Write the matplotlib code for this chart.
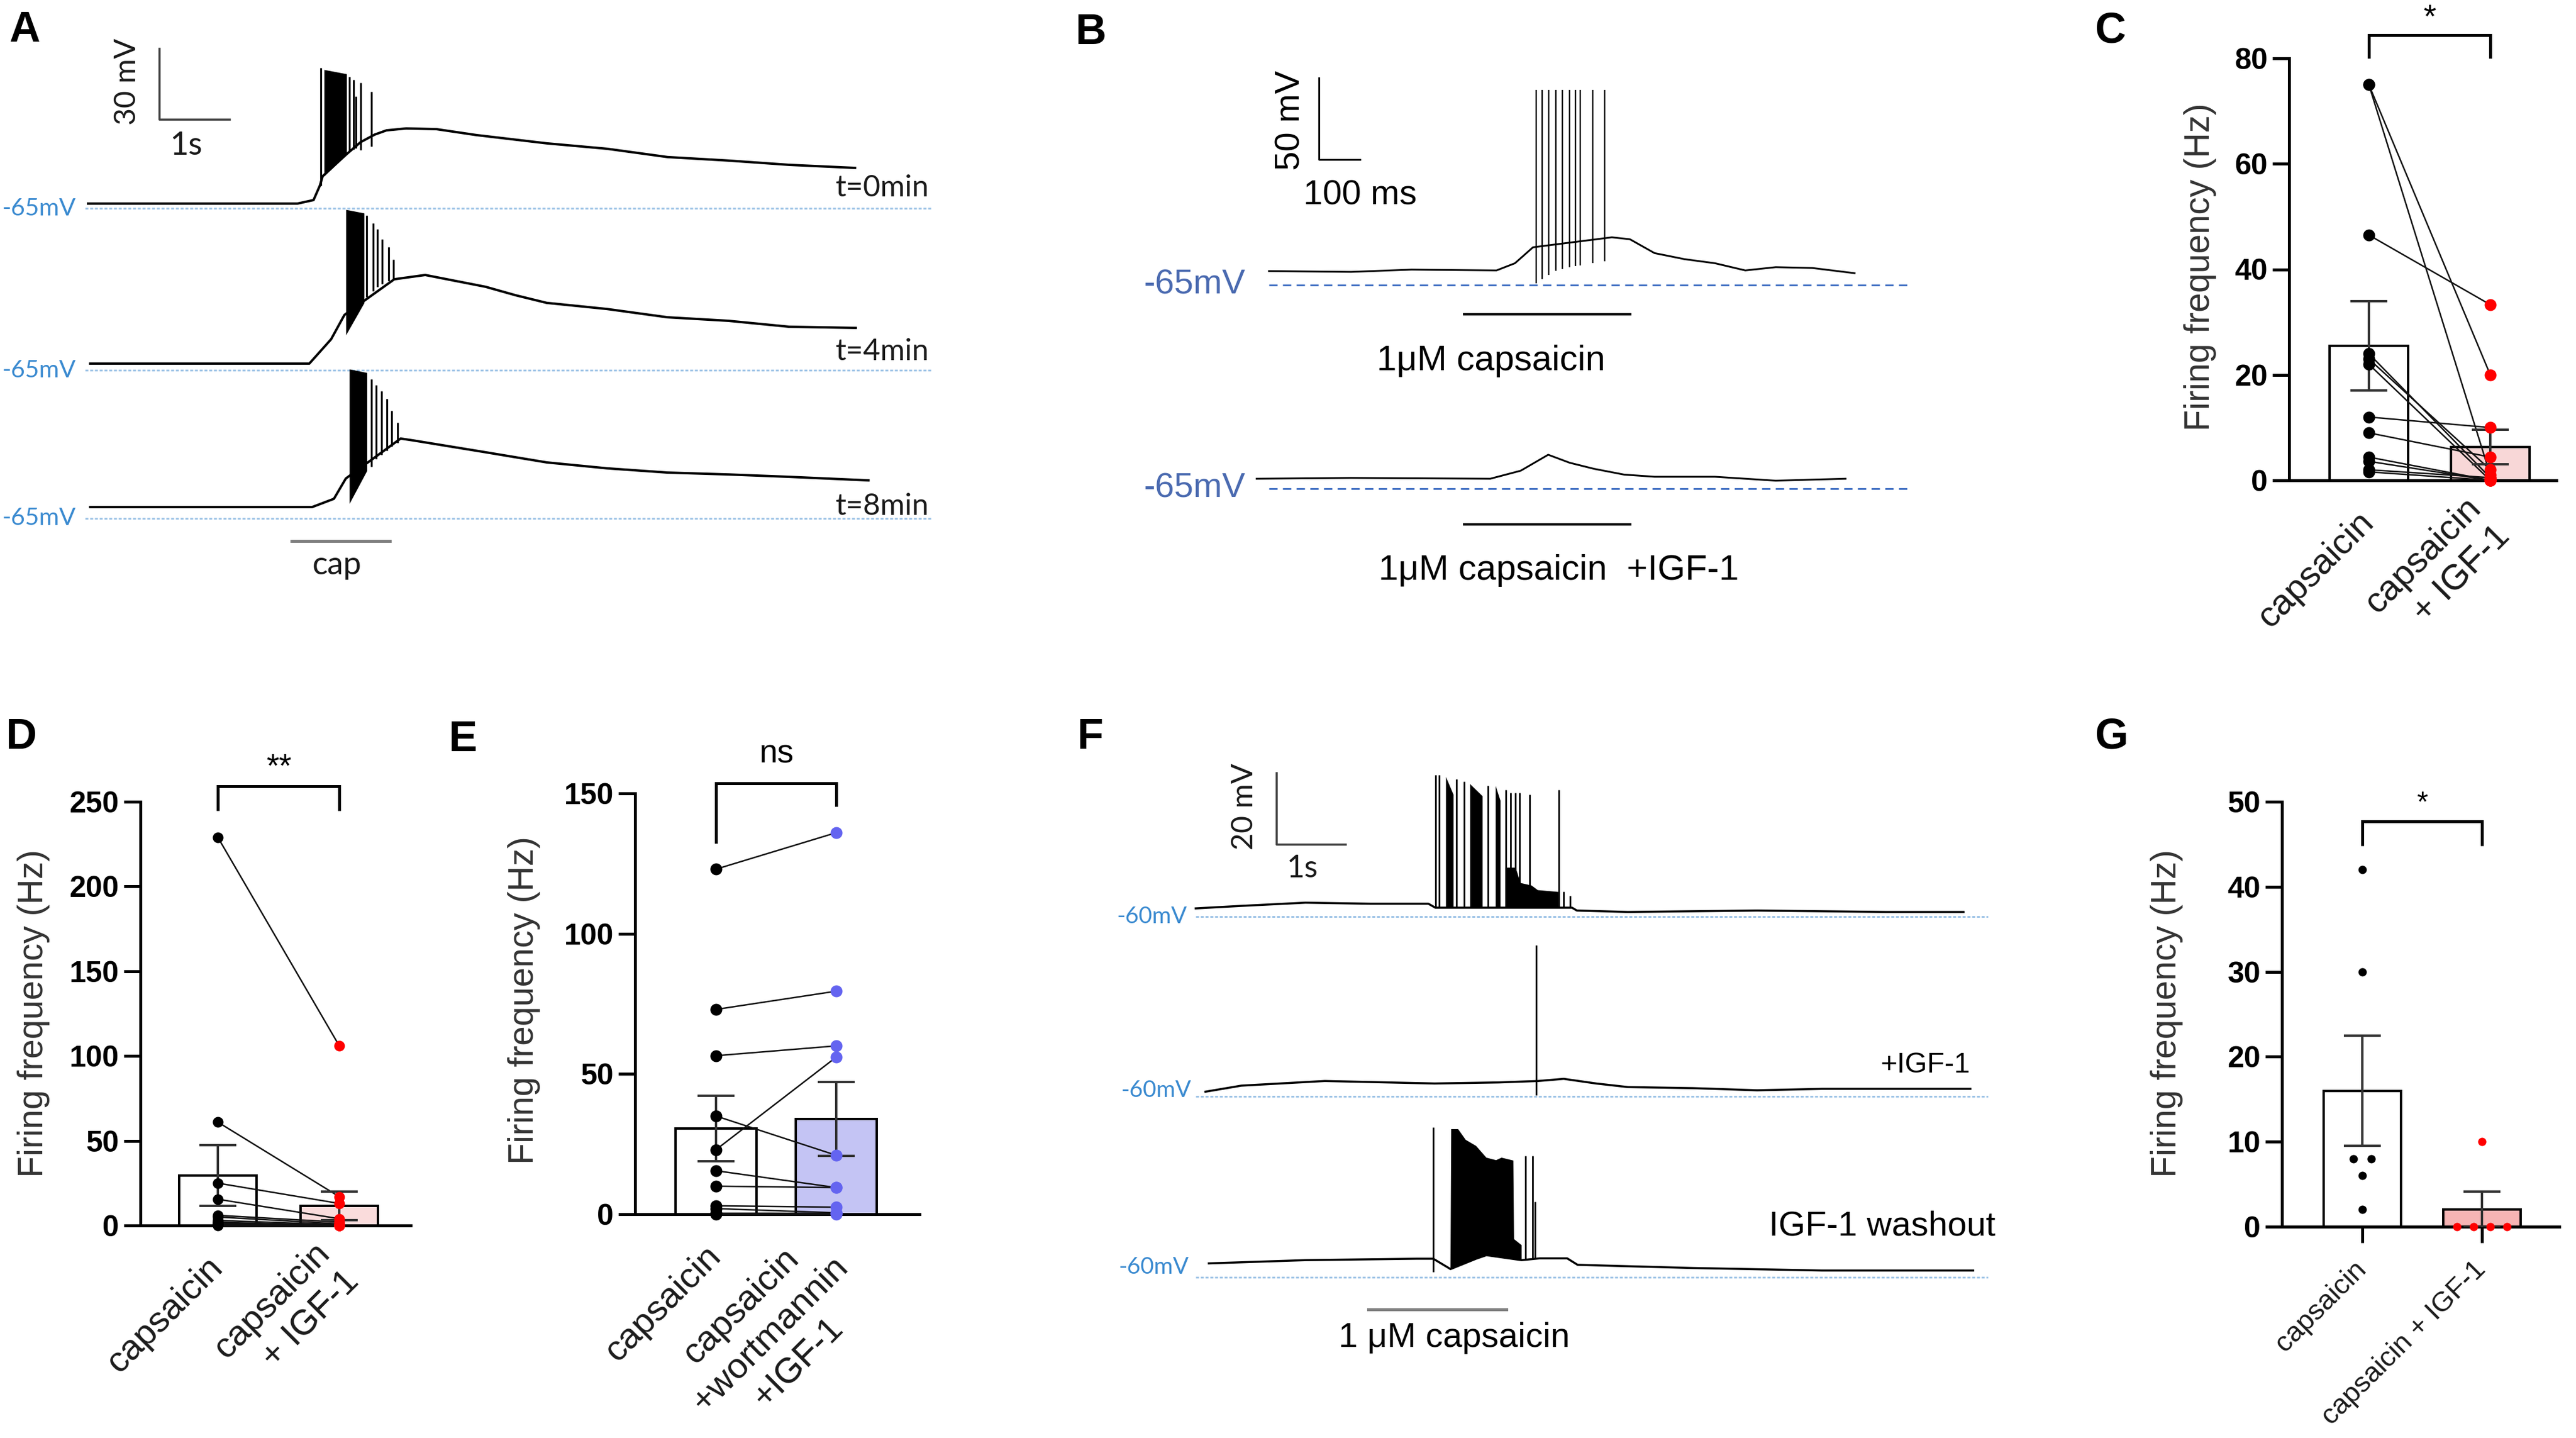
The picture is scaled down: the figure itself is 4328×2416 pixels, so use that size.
import numpy as np
import matplotlib
matplotlib.use("Agg")
import matplotlib.pyplot as plt
from matplotlib.transforms import ScaledTranslation

plt.rcParams['lines.scale_dashes'] = False
plt.rcParams['font.family'] = ['Liberation Sans', 'DejaVu Sans']

W, H, DPI = 4328, 2416, 100

# ======================= DATA =======================
# ---- Panel A : membrane potential traces (time in s, V in mV)
a1_t = [0.00, 2.98, 3.21, 3.30, 3.34, 3.68, 3.88, 4.08, 4.25, 4.53, 4.96, 5.53, 6.53, 7.39, 8.25, 9.12, 9.98, 10.92]
a1_v = [-63.0, -63.0, -61.5, -55.4, -51.4, -42.1, -37.0, -33.8, -32.0, -31.2, -31.5, -34.0, -37.5, -39.8, -43.3, -44.8, -46.6, -47.9]
a1_spk_t = [3.31, 3.72, 3.78, 3.81, 3.88, 4.03]
a1_spk_top = [-5.6, -9.3, -10.6, -17.6, -11.9, -15.6]
a1_spk_bot = [-55.4, -40.8, -40.1, -39.6, -40.3, -38.8]
a1_burst_t = [3.36, 3.68]
a1_burst_top = [-6.3, -8.1]
a1_burst_bot = [-51.4, -42.1]

a2_t = [0.03, 3.15, 3.46, 3.65, 4.36, 4.80, 5.66, 6.09, 6.53, 7.39, 8.25, 9.12, 9.98, 10.93]
a2_v = [-62.2, -62.2, -51.9, -41.6, -26.5, -24.7, -29.7, -33.3, -36.5, -39.1, -42.6, -44.1, -46.6, -47.1]
a2_spk_t = [3.97, 4.06, 4.12, 4.19, 4.28, 4.35]
a2_spk_top = [0.5, -2.8, -5.3, -9.6, -12.9, -18.1]
a2_spk_bot = [-34.0, -31.5, -29.7, -28.5, -27.2, -26.5]
a2_burst_t = [3.67, 3.93]
a2_burst_top = [3.0, 1.5]
a2_burst_bot = [-50.1, -36.5]

a3_t = [0.03, 3.19, 3.50, 3.67, 4.45, 4.63, 5.66, 6.53, 7.39, 8.25, 9.12, 9.98, 11.11]
a3_v = [-60.2, -60.2, -56.7, -48.1, -31.2, -32.0, -37.0, -41.3, -43.8, -45.6, -46.4, -47.4, -48.9]
a3_spk_t = [4.03, 4.10, 4.18, 4.25, 4.32, 4.41]
a3_spk_top = [-6.1, -8.6, -11.1, -14.4, -19.4, -24.4]
a3_spk_bot = [-43.1, -39.8, -38.0, -36.3, -34.5, -33.0]
a3_burst_t = [3.72, 3.97]
a3_burst_top = [-1.8, -3.3]
a3_burst_bot = [-58.7, -44.8]
a_labels = ["t=0min", "t=4min", "t=8min"]
a_cap = [2.9, 4.3]          # capsaicin application (s)

# ---- Panel B : traces (time in ms, V in mV)
b1_t = [0, 200, 347, 554, 599, 643, 835, 879, 939, 1012, 1086, 1160, 1234, 1323, 1426]
b1_v = [-56.4, -56.9, -55.5, -56.0, -51.6, -41.8, -35.7, -36.9, -45.4, -49.1, -51.6, -56.0, -54.0, -54.5, -57.7]
b1_spk_t = [650, 665, 681, 699, 715, 732, 746, 758, 788, 817]
b1_spk_top = [54.8, 54.8, 54.8, 54.8, 54.8, 54.8, 54.8, 54.8, 54.8, 54.8]
b1_spk_bot = [-63.8, -61.3, -58.9, -56.4, -55.2, -54.0, -53.5, -52.8, -51.6, -50.3]
b2_t = [-30, 200, 539, 613, 680, 732, 791, 865, 939, 1086, 1234, 1404]
b2_v = [-58.9, -58.4, -58.9, -54.0, -44.2, -49.1, -52.8, -56.4, -57.7, -57.7, -60.1, -58.9]
b_cap = [475, 880]          # capsaicin application (ms)

# ---- Panel F : traces (time in s, V in mV)
f1_t = [0.00, 0.66, 1.59, 2.53, 3.37, 3.47, 5.45, 5.52, 6.26, 8.13, 10.00, 11.12]
f1_v = [-57.7, -57.0, -56.1, -56.4, -56.4, -57.5, -57.5, -58.3, -58.7, -58.3, -58.7, -58.7]
f1_spk_t = [3.47, 3.53, 3.78, 3.89, 4.23, 4.49, 4.56, 4.63, 4.69, 4.84, 5.26, 5.33, 5.42]
f1_spk_top = [-20.3, -20.3, -21.5, -22.2, -23.3, -24.5, -25.3, -25.3, -25.3, -25.8, -24.5, -53.0, -54.2]
f1_spk_bot = [-57.5, -57.5, -57.5, -57.5, -57.5, -57.5, -57.5, -57.5, -57.5, -57.5, -57.5, -57.5, -57.5]
f1_burst_t0 = [3.62, 3.97, 4.34]
f1_burst_t1 = [3.73, 4.15, 4.41]
f1_burst_top0 = [-20.8, -22.8, -23.3]
f1_burst_top1 = [-25.8, -26.2, -27.5]
f1_floor_t = [4.48, 4.63, 4.70, 4.86, 4.95, 5.25]
f1_floor_top = [-46.2, -46.2, -50.5, -51.2, -52.5, -53.0]
f1_floor_bot = [-57.5, -57.5, -57.5, -57.5, -57.5, -57.5]

f2_t = [0.14, 0.66, 1.87, 3.46, 4.39, 4.96, 5.33, 5.80, 6.26, 7.20, 8.13, 9.07, 11.22]
f2_v = [-58.7, -57.0, -55.7, -56.4, -56.1, -55.7, -55.1, -56.4, -57.4, -57.7, -58.3, -57.9, -57.9]
f2_spk_t = [4.93]
f2_spk_top = [-17.6]
f2_spk_bot = [-59.6]

f3_t = [0.19, 1.59, 3.20, 3.44, 3.69, 4.06, 4.21, 4.72, 4.98, 5.38, 5.53, 6.07, 7.20, 9.07, 11.26]
f3_v = [-56.1, -55.2, -54.8, -54.8, -57.7, -54.8, -53.8, -55.2, -54.7, -54.7, -56.5, -56.8, -57.4, -58.1, -58.1]
f3_spk_t = [3.44, 4.78, 4.88, 4.91]
f3_spk_top = [-18.0, -26.0, -26.0, -38.8]
f3_spk_bot = [-58.5, -54.8, -54.8, -54.8]
f3_burst_up_t = [3.70, 3.80, 3.91, 4.06, 4.21, 4.35, 4.43, 4.60, 4.61, 4.72]
f3_burst_up_v = [-18.5, -18.5, -21.5, -23.2, -26.5, -27.2, -26.5, -27.3, -49.3, -51.0]
f3_burst_lo_t = [3.69, 4.06, 4.21, 4.72]
f3_burst_lo_v = [-57.7, -54.8, -53.8, -55.2]
f_cap = [2.5, 4.5]

# ---- Panel C
c_cats = ["capsaicin", "capsaicin\n+ IGF-1"]
c_caps = [75, 75, 46.5, 24, 23, 22, 12, 9, 4.4, 3.6, 2.0, 1.6]
c_igf = [20, 1.0, 33.3, 0.5, 2.0, 0, 10, 4.4, 0, 0, 0.5, 0]
c_mean = [25.5, 6.3]
c_sem = [8.5, 3.3]
c_yticks = [0, 20, 40, 60, 80]

# ---- Panel D
d_cats = ["capsaicin", "capsaicin\n+ IGF-1"]
d_caps = [229, 61, 25, 15.5, 6, 5, 3, 2, 1.5, 1, 0.5, 0]
d_igf = [106, 17, 13, 4, 2, 1, 0.5, 0, 0, 0, 0, 0]
d_mean = [29.5, 11.5]
d_sem = [17.8, 8.5]
d_yticks = [0, 50, 100, 150, 200, 250]

# ---- Panel E
e_cats = ["capsaicin", "capsaicin\n+wortmannin\n+IGF-1"]
e_caps = [123, 73, 56.5, 35, 23, 15.5, 10, 3, 2, 0.5, 0]
e_wort = [136, 79.5, 60, 21, 56, 9.5, 9.5, 2.5, 0.5, 0.5, 0]
e_mean = [30.6, 33.9]
e_sem = [11.7, 13.2]
e_yticks = [0, 50, 100, 150]

# ---- Panel G
g_cats = ["capsaicin", "capsaicin + IGF-1"]
g_caps = [42, 30, 8, 8, 6, 2]
g_igf = [10, 0, 0, 0, 0]
g_caps_dx = [0, 0, -0.075, 0.075, 0, 0]
g_igf_dx = [0, -0.21, -0.07, 0.07, 0.21]
g_mean = [16.0, 2.0]
g_sem = [6.5, 2.1]
g_yticks = [0, 10, 20, 30, 40, 50]

# ======================= HELPERS =======================
fig = plt.figure(figsize=(W / DPI, H / DPI), dpi=DPI)
fig.patch.set_facecolor('white')


def P(px):
    return px * 72.0 / DPI


def add_ax(x0, y0, x1, y1):
    return fig.add_axes([x0 / W, 1 - y1 / H, (x1 - x0) / W, (y1 - y0) / H])


def ftext(x, y, s, size, **kw):
    fig.text(x / W, 1 - y / H, s, fontsize=P(size), **kw)


CAL = ['Lato', 'DejaVu Sans']
ARI = ['Liberation Sans', 'DejaVu Sans']


def trace_ax(box, t0_px, px_per_t, dash_px, vref, px_per_mv):
    x0, y0, x1, y1 = box
    ax = add_ax(*box)
    ax.set_xlim((x0 - t0_px) / px_per_t, (x1 - t0_px) / px_per_t)
    ax.set_ylim(vref - (y1 - dash_px) / px_per_mv, vref + (dash_px - y0) / px_per_mv)
    ax.axis('off')
    ax.patch.set_alpha(0)
    return ax


def draw_trace(ax, t, v, st=None, stop=None, sbot=None, lw=3.5):
    ax.plot(t, v, color='k', lw=P(lw), clip_on=False, solid_joinstyle='round')
    if st is not None:
        ax.vlines(st, sbot, stop, colors='k', lw=P(lw * 0.8), clip_on=False)


def baseline(ax, v, t0, t1, color, dash, gap, lw=3):
    ax.plot([t0, t1], [v, v], color=color, lw=P(lw), dashes=(P(dash), P(gap)), clip_on=False)


# ======================= PANEL A =======================
A_box = (0, 0, 1640, 1060)
A_dash = [350, 622, 871]
axA = [trace_ax(A_box, 148, 118, d, -65, 3.97) for d in A_dash]
draw_trace(axA[0], a1_t, a1_v, a1_spk_t, a1_spk_top, a1_spk_bot, lw=4)
axA[0].fill_between(a1_burst_t, a1_burst_bot, a1_burst_top, color='k', lw=0)
draw_trace(axA[1], a2_t, a2_v, a2_spk_t, a2_spk_top, a2_spk_bot, lw=4)
axA[1].fill_between(a2_burst_t, a2_burst_bot, a2_burst_top, color='k', lw=0)
draw_trace(axA[2], a3_t, a3_v, a3_spk_t, a3_spk_top, a3_spk_bot, lw=4)
axA[2].fill_between(a3_burst_t, a3_burst_bot, a3_burst_top, color='k', lw=0)
for ax, d, lab, ly in zip(axA, A_dash, a_labels, [316, 591, 851]):
    baseline(ax, -65, -0.04, 12.02, '#9dc3e6', 5, 3)
    ftext(128, d, "-65mV", 41, ha='right', va='center', color='#3a8ad0', family=CAL)
    ftext(1561, ly, lab, 50, ha='right', va='center', color='#1a1a1a', family=CAL)
# scale bar 1 s / 30 mV
sb_t, sb_v = 1.02, -27.5
axA[0].plot([sb_t, sb_t, sb_t + 1.0], [sb_v + 30, sb_v, sb_v], color='#404040', lw=P(3.5), clip_on=False)
ftext(214, 137, "30 mV", 50, ha='center', va='center', rotation=90, family=CAL, color='#1a1a1a')
ftext(313, 245, "1s", 54, ha='center', va='center', family=CAL, color='#1a1a1a')
axA[2].plot(a_cap, [-74.6, -74.6], color='#7f7f7f', lw=P(5), clip_on=False)
ftext(566, 950, "cap", 54, ha='center', va='center', family=CAL, color='#1a1a1a')

# ======================= PANEL B =======================
B_box = (1760, 0, 3360, 1050)
B_dash = [479, 821]
axB = [trace_ax(B_box, 2132, 0.69, d, -65, 2.74) for d in B_dash]
draw_trace(axB[0], b1_t, b1_v, b1_spk_t, b1_spk_top, b1_spk_bot, lw=3)
draw_trace(axB[1], b2_t, b2_v, lw=3)
for ax, d in zip(axB, B_dash):
    baseline(ax, -65, 0, 1559, '#4472c4', 14, 9)
    ftext(2092, d, "-65mV", 58, ha='right', va='center', color='#4a6ab0', family=ARI)
sbb_t, sbb_v = 122, 12.0
axB[0].plot([sbb_t, sbb_t, sbb_t + 100], [sbb_v + 50, sbb_v, sbb_v], color='k', lw=P(3), clip_on=False)
ftext(2168, 202, "50 mV", 58, ha='center', va='center', rotation=90, family=ARI)
ftext(2285, 328, "100 ms", 58, ha='center', va='center', family=ARI)
axB[0].plot(b_cap, [-82.9, -82.9], color='k', lw=P(4), clip_on=False)
axB[1].plot(b_cap, [-86.9, -86.9], color='k', lw=P(4), clip_on=False)
ftext(2505, 606, "1μM capsaicin", 60, ha='center', va='center', family=ARI)
ftext(2316, 958, "1μM capsaicin  +IGF-1", 60, ha='left', va='center', family=ARI)

# ======================= PANEL F =======================
F_box = (1760, 1200, 3460, 2416)
F_dash = [1540, 1842, 2146]
axF = [trace_ax(F_box, 2009, 116, d, -60, 6.0) for d in F_dash]
draw_trace(axF[0], f1_t, f1_v, f1_spk_t, f1_spk_top, f1_spk_bot, lw=3.5)
for t0, t1, v0, v1 in zip(f1_burst_t0, f1_burst_t1, f1_burst_top0, f1_burst_top1):
    axF[0].fill_between([t0, t1], [-57.5, -57.5], [v0, v1], color='k', lw=0)
axF[0].fill_between(f1_floor_t, f1_floor_bot, f1_floor_top, color='k', lw=0)
draw_trace(axF[1], f2_t, f2_v, f2_spk_t, f2_spk_top, f2_spk_bot, lw=3.5)
draw_trace(axF[2], f3_t, f3_v, f3_spk_t, f3_spk_top, f3_spk_bot, lw=3.5)
axF[2].fill(f3_burst_up_t + f3_burst_lo_t[::-1], f3_burst_up_v + f3_burst_lo_v[::-1], color='k', lw=0)
for ax, ly, rx in zip(axF, [1540, 1832, 2129], [1995, 2002, 1998]):
    baseline(ax, -60, 0, 11.47, '#9dc3e6', 5, 3)
    ftext(rx, ly, "-60mV", 39, ha='right', va='center', color='#3a8ad0', family=CAL)
sbf_t, sbf_v = 1.17, -39.8
axF[0].plot([sbf_t, sbf_t, sbf_t + 1.0], [sbf_v + 20, sbf_v, sbf_v], color='#404040', lw=P(3.5), clip_on=False)
ftext(2091, 1355, "20 mV", 50, ha='center', va='center', rotation=90, family=CAL, color='#1a1a1a')
ftext(2188, 1460, "1s", 52, ha='center', va='center', family=CAL, color='#1a1a1a')
ftext(3310, 1789, "+IGF-1", 48, ha='right', va='center', family=ARI)
ftext(3353, 2061, "IGF-1 washout", 58, ha='right', va='center', family=ARI)
axF[2].plot(f_cap, [-69.0, -69.0], color='#7f7f7f', lw=P(5), clip_on=False)
ftext(2443, 2248, "1 μM capsaicin", 58, ha='center', va='center', family=ARI)


# ======================= BAR PANELS =======================
def bar_axes(spine_x, right_x, top_y, zero_y, cat0_x, cat1_x, ymax, yticks, xticks=False):
    ax = add_ax(spine_x, top_y, right_x, zero_y)
    u = cat1_x - cat0_x
    ax.set_xlim((spine_x - cat0_x) / u, (right_x - cat0_x) / u)
    ax.set_ylim(0, ymax)
    for s in ['top', 'right']:
        ax.spines[s].set_visible(False)
    for s in ['left', 'bottom']:
        ax.spines[s].set_linewidth(P(5))
    ax.set_yticks(yticks)
    ax.set_yticklabels([str(v) for v in yticks], fontweight='bold', fontsize=P(50), family=ARI)
    ax.tick_params(axis='y', length=P(28), width=P(5), pad=P(8))
    if xticks:
        ax.set_xticks([0, 1])
        ax.set_xticklabels(['', ''])
        ax.tick_params(axis='x', length=P(27), width=P(5))
    else:
        ax.set_xticks([])
    ax.patch.set_alpha(0)
    return ax


def bars(ax, means, sems, fills, width, capw=31):
    ax.bar([0, 1], means, width=width, color=fills, edgecolor='k', linewidth=P(4), zorder=2)
    ax.errorbar([0, 1], means, yerr=sems, fmt='none', ecolor='#333333', elinewidth=P(4),
                capsize=P(capw), capthick=P(4), zorder=4)


def paired(ax, a, b, col_b, ms):
    for ya, yb in zip(a, b):
        ax.plot([0, 1], [ya, yb], color='#111111', lw=P(2.5), zorder=3, clip_on=False)
    ax.plot([0] * len(a), a, 'o', ms=P(ms), color='k', mec='k', mew=0, zorder=5, clip_on=False)
    ax.plot([1] * len(b), b, 'o', ms=P(ms), color=col_b, mec=col_b, mew=0, zorder=5, clip_on=False)


def bracket(ax, yl, ytop, yr, text, ty, size):
    ax.plot([0, 0, 1, 1], [yl, ytop, ytop, yr], color='k', lw=P(5), clip_on=False,
            solid_capstyle='butt', solid_joinstyle='miter')
    ax.text(0.5, ty, text, ha='center', va='center', fontsize=P(size), clip_on=False, family=ARI)


def cat_label(ax, x, s, size, dx, dy, malign='right'):
    tr = ax.get_xaxis_transform() + ScaledTranslation(dx / DPI, -dy / DPI, fig.dpi_scale_trans)
    ax.text(x, 0, s, transform=tr, rotation=45, rotation_mode='anchor', ha='right', va='center',
            fontsize=P(size), multialignment=malign, linespacing=1.3, family=ARI, color='#1a1a1a')


YL = "Firing frequency (Hz)"

# ---- C
axC = bar_axes(3846, 4295, 98, 807, 3980, 4184, 80, c_yticks)
bars(axC, c_mean, c_sem, ['white', '#f8d7d7'], 0.65)
paired(axC, c_caps, c_igf, '#ff0000', 20)
bracket(axC, 80, 84.4, 80, "*", 87.5, 55)
for i, s in enumerate(c_cats):
    cat_label(axC, i, s, 60, 0, 62)
ftext(3697, 449, YL, 59, rotation=90, ha='center', va='center', color='#333333', family=ARI)

# ---- D
axD = bar_axes(236, 690, 1347, 2059, 366, 570, 250, d_yticks)
bars(axD, d_mean, d_sem, ['white', '#fadcdc'], 0.64)
paired(axD, d_caps, d_igf, '#ff0000', 18)
bracket(axD, 244.6, 259, 244.6, "**", 270, 55)
for i, s in enumerate(d_cats):
    cat_label(axD, i, s, 60, 0, 62)
ftext(57, 1703, YL, 59, rotation=90, ha='center', va='center', color='#333333', family=ARI)

# ---- E
axE = bar_axes(1067, 1545, 1333, 2040, 1203, 1405, 150, e_yticks)
bars(axE, e_mean, e_sem, ['white', '#c4c4f4'], 0.67)
paired(axE, e_caps, e_wort, '#6464f0', 20)
bracket(axE, 132.2, 153.6, 145.4, "ns", 164, 55)
cat_label(axE, 0, e_cats[0], 60, 0, 62)
cat_label(axE, 1, e_cats[1], 60, 10, 80, malign='center')
ftext(881, 1681, YL, 59, rotation=90, ha='center', va='center', color='#333333', family=ARI)

# ---- G
axG = bar_axes(3834, 4300, 1347, 2061, 3969, 4170, 50, g_yticks, xticks=True)
bars(axG, g_mean, g_sem, ['white', '#f6b4b4'], 0.65)
axG.plot(np.array(g_caps_dx) + 0, g_caps, 'o', ms=P(14), color='k', mew=0, zorder=5, clip_on=False)
axG.plot(np.array(g_igf_dx) + 1, g_igf, 'o', ms=P(14), color='#ff0000', mew=0, zorder=5, clip_on=False)
bracket(axG, 44.8, 47.7, 44.8, "*", 49.8, 48)
for i, s in enumerate(g_cats):
    cat_label(axG, i, s, 47, 0, 65)
ftext(3641, 1703, YL, 59, rotation=90, ha='center', va='center', color='#333333', family=ARI)

# ======================= PANEL LETTERS =======================
for lab, x, y in [("A", 15, 70), ("B", 1806, 74), ("C", 3520, 72),
                  ("D", 9, 1258), ("E", 753, 1262), ("F", 1809, 1258), ("G", 3520, 1258)]:
    ftext(x, y, lab, 72, ha='left', va='baseline', fontweight='bold', family=ARI)

fig.savefig("out.png", dpi=DPI)
